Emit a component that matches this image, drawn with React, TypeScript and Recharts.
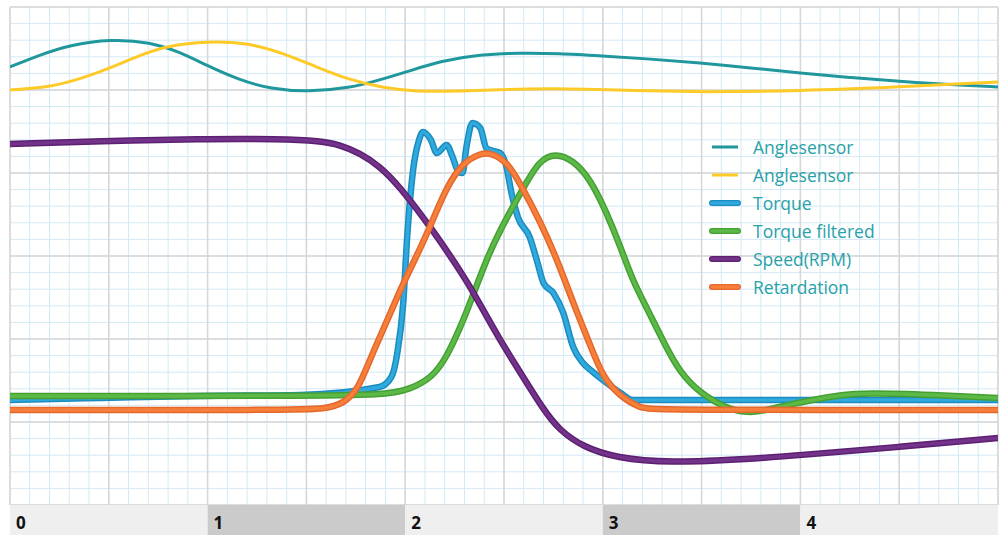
import { ComposedChart, Line, XAxis, YAxis, CartesianGrid, Legend } from "recharts";

// time in seconds, values in grid units (30 minor rows)
const angle1Time = [0, 0.15, 0.3, 0.51, 0.71, 0.86, 1.0, 1.16, 1.32, 1.51, 1.72, 1.87, 2.02, 2.18, 2.38, 2.58, 2.78, 2.99, 3.24, 3.49, 3.75, 4.0, 4.25, 4.5, 4.76, 5.0];
const angle1Val = [26.39, 27.11, 27.71, 28.07, 27.89, 27.29, 26.45, 25.6, 25.06, 24.88, 25.12, 25.6, 26.14, 26.75, 27.14, 27.23, 27.2, 27.05, 26.87, 26.63, 26.33, 26.02, 25.75, 25.51, 25.33, 25.18];

const angle2Time = [0, 0.2, 0.37, 0.51, 0.66, 0.79, 1.0, 1.21, 1.38, 1.55, 1.72, 1.89, 2.06, 2.23, 2.65, 2.9, 3.24, 3.49, 4.0, 4.5, 5.0];
const angle2Val = [25.0, 25.15, 25.72, 26.33, 27.11, 27.65, 27.95, 27.83, 27.23, 26.39, 25.6, 25.12, 24.91, 24.91, 25.09, 25.06, 24.94, 24.88, 24.94, 25.18, 25.48];

const torqueTime = [0, 0.46, 0.96, 1.47, 1.87, 1.93, 1.96, 1.99, 2.01, 2.04, 2.07, 2.09, 2.13, 2.16, 2.21, 2.24, 2.27, 2.29, 2.31, 2.34, 2.38, 2.41, 2.43, 2.48, 2.51, 2.54, 2.57, 2.63, 2.67, 2.7, 2.75, 2.8, 2.85, 2.9, 2.95, 3.02, 3.09, 3.15, 3.39, 5.0];
const torqueVal = [6.33, 6.45, 6.57, 6.63, 7.11, 7.71, 9.16, 12.17, 16.14, 20.18, 21.99, 22.47, 21.99, 21.2, 21.69, 20.96, 20.06, 20.0, 21.57, 23.01, 22.71, 21.51, 21.39, 21.2, 20.48, 18.67, 17.35, 16.14, 14.58, 13.37, 12.77, 11.57, 9.52, 8.55, 8.01, 7.35, 6.75, 6.33, 6.33, 6.33];

const filtTime = [0, 1.5, 1.89, 2.02, 2.14, 2.21, 2.28, 2.34, 2.41, 2.48, 2.6, 2.68, 2.76, 2.85, 2.94, 3.02, 3.09, 3.15, 3.22, 3.32, 3.39, 3.49, 3.63, 3.74, 3.83, 4.0, 4.2, 4.34, 4.67, 5.0];
const filtVal = [6.57, 6.57, 6.63, 6.93, 7.71, 8.92, 10.72, 12.53, 14.76, 16.57, 19.16, 20.78, 21.2, 20.78, 19.58, 17.59, 15.54, 13.55, 11.93, 9.52, 8.01, 6.75, 5.78, 5.54, 5.72, 6.2, 6.63, 6.75, 6.63, 6.45];

const speedTime = [0, 0.46, 0.96, 1.37, 1.57, 1.67, 1.77, 1.87, 1.97, 2.14, 2.31, 2.38, 2.48, 2.55, 2.7, 2.78, 2.9, 3.07, 3.33, 3.75, 4.0, 4.5, 5.0];
const speedVal = [21.75, 21.93, 22.05, 22.05, 21.93, 21.69, 21.2, 20.42, 19.22, 16.57, 13.55, 12.05, 9.94, 8.6, 5.72, 4.52, 3.49, 2.83, 2.53, 2.77, 3.01, 3.49, 4.04];

const retTime = [0, 1.4, 1.6, 1.69, 1.76, 1.82, 1.91, 1.99, 2.08, 2.14, 2.21, 2.29, 2.38, 2.44, 2.52, 2.58, 2.68, 2.77, 2.85, 2.94, 3.0, 3.09, 3.19, 3.25, 5.0];
const retVal = [5.72, 5.72, 5.78, 6.14, 6.93, 8.73, 11.14, 13.37, 15.54, 17.17, 19.16, 20.6, 21.2, 21.2, 20.6, 19.4, 17.17, 14.76, 12.17, 9.52, 7.71, 6.51, 5.84, 5.72, 5.72];

const bandTicks = [0, 1, 2, 3, 4];
const legendOrder = ["Anglesensor", "Anglesensor ", "Torque", "Torque filtered", "Speed(RPM)", "Retardation"];

const toRows = (t: number[], v: number[]) => t.map((x, i) => ({ t: x, v: v[i] }));

const CHART_W = 1003;
const CHART_H = 535;
const MARGIN = { top: 7, right: 5, left: 10, bottom: 0 };
const BAND_W = (CHART_W - MARGIN.left - MARGIN.right) / 5;
const X_MAX = 5;
const Y_MAX = 30;

const range = (step: number, max: number) =>
  Array.from({ length: Math.round(max / step) + 1 }, (_, i) => +(i * step).toFixed(2));

// grid lines placed through the axis scale (fallback: plot offset)
const vGen = (step: number) => ({ xAxis, offset }: any) =>
  range(step, X_MAX).map((v) =>
    xAxis && typeof xAxis.scale === "function" ? xAxis.scale(v) : offset.left + (v / X_MAX) * offset.width
  );
const hGen = (step: number) => ({ yAxis, offset }: any) =>
  range(step, Y_MAX).map((v) =>
    yAxis && typeof yAxis.scale === "function" ? yAxis.scale(v) : offset.top + (1 - v / Y_MAX) * offset.height
  );

function BandTick({ x, y, payload, index }: any) {
  return (
    <g>
      <rect x={x} y={y} width={BAND_W} height={30} fill={index % 2 ? "#cbcbcb" : "#efefef"} />
      <text
        x={x + 6}
        y={y + 24}
        fontSize={17}
        fontWeight="bold"
        fill="#111"
        fontFamily='"Noto Sans", sans-serif'
      >
        {payload.value}
      </text>
    </g>
  );
}

function LegendContent({ payload }: any) {
  const items = (payload || [])
    .filter((p: any) => p.type !== "none")
    .sort((a: any, b: any) => legendOrder.indexOf(a.value) - legendOrder.indexOf(b.value));
  return (
    <div style={{ fontFamily: '"Open Sans", sans-serif', fontSize: 17.5, color: "#27a2a8" }}>
      {items.map((entry: any, i: number) => {
        const outline = entry.payload?.outline;
        return (
          <div key={i} style={{ display: "flex", alignItems: "center", height: 28 }}>
            <svg width={36} height={10}>
              {outline && <line x1={7} y1={5} x2={33} y2={5} stroke={outline} strokeWidth={6} strokeLinecap="round" />}
              <line x1={7} y1={5} x2={33} y2={5} stroke={entry.color} strokeWidth={outline ? 3.5 : 3} strokeLinecap={outline ? "round" : "butt"} />
            </svg>
            <span style={{ marginLeft: 12 }}>{entry.value.trim()}</span>
          </div>
        );
      })}
    </div>
  );
}

const thick = [
  { name: "Torque", t: torqueTime, v: torqueVal, color: "#30a9dc", outline: "#1b8cc0", curve: "monotone" },
  { name: "Torque filtered", t: filtTime, v: filtVal, color: "#5db947", outline: "#44a033", curve: "basis" },
  { name: "Speed(RPM)", t: speedTime, v: speedVal, color: "#74338b", outline: "#5c2070", curve: "basis" },
  { name: "Retardation", t: retTime, v: retVal, color: "#f67f3c", outline: "#e4682b", curve: "basis" },
];

export default function App() {
  return (
    <div style={{ position: "absolute", left: 0, top: 0, width: CHART_W, height: CHART_H, background: "#fff" }}>
      <ComposedChart width={CHART_W} height={CHART_H} margin={MARGIN}>
        <XAxis
          type="number"
          dataKey="t"
          domain={[0, X_MAX]}
          ticks={bandTicks}
          interval={0}
          height={30}
          tick={<BandTick />}
          tickLine={false}
          tickSize={0}
          tickMargin={0}
          axisLine={false}
          allowDataOverflow
        />
        <YAxis type="number" domain={[0, Y_MAX]} ticks={range(5, Y_MAX)} hide />
        <CartesianGrid
          stroke="#d3e9f6"
          strokeWidth={1}
          verticalCoordinatesGenerator={vGen(0.1)}
          horizontalCoordinatesGenerator={hGen(1)}
        />
        <CartesianGrid
          stroke="#d6d6d6"
          strokeWidth={1.5}
          verticalCoordinatesGenerator={vGen(0.5)}
          horizontalCoordinatesGenerator={hGen(5)}
        />

        <Line
          data={toRows(angle1Time, angle1Val)}
          dataKey="v"
          name="Anglesensor"
          type="basis"
          stroke="#1f979c"
          strokeWidth={3}
          dot={false}
          isAnimationActive={false}
        />
        <Line
          data={toRows(angle2Time, angle2Val)}
          dataKey="v"
          name="Anglesensor "
          type="basis"
          stroke="#fdca27"
          strokeWidth={3}
          dot={false}
          isAnimationActive={false}
        />
        {thick.flatMap((s) => [
          <Line
            key={s.name + "-edge"}
            data={toRows(s.t, s.v)}
            dataKey="v"
            name={s.name + " edge"}
            type={s.curve as any}
            stroke={s.outline}
            strokeWidth={6.5}
            dot={false}
            legendType="none"
            isAnimationActive={false}
          />,
          <Line
            key={s.name}
            data={toRows(s.t, s.v)}
            dataKey="v"
            name={s.name}
            type={s.curve as any}
            stroke={s.color}
            strokeWidth={3.5}
            dot={false}
            outline={s.outline}
            isAnimationActive={false}
          />,
        ])}

        <Legend
          layout="vertical"
          align="center"
          verticalAlign="middle"
          content={<LegendContent />}
          wrapperStyle={{ left: 705, top: 133, width: 220 }}
        />
      </ComposedChart>
    </div>
  );
}
